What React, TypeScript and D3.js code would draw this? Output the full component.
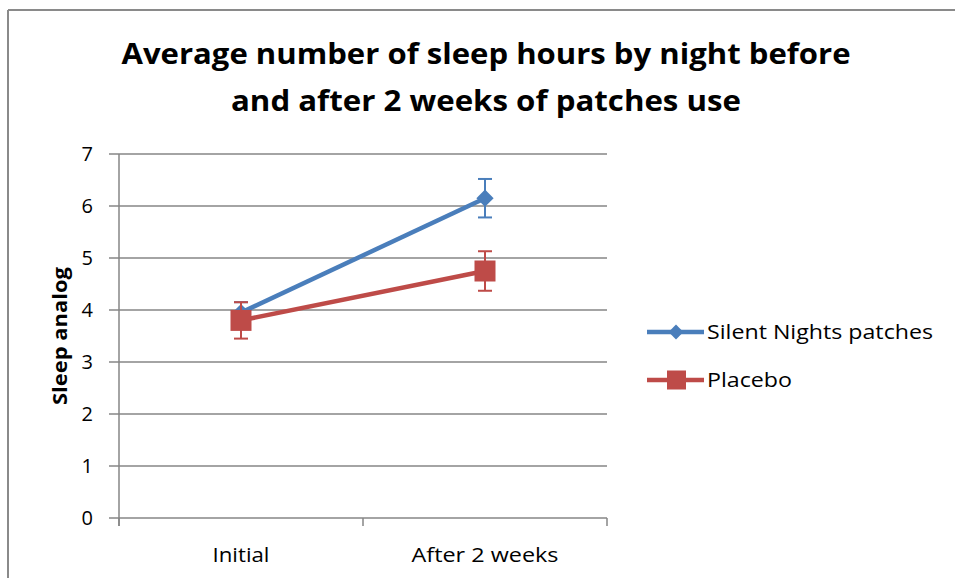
import React, { useEffect, useRef } from 'react';
import * as d3 from 'd3';

// chart values
const categories = ['Initial', 'After 2 weeks'];
const seriesNames = ['Silent Nights patches', 'Placebo'];
const silentNights = [3.95, 6.15];
const silentNightsErr = [0.2, 0.37];
const placebo = [3.8, 4.75];
const placeboErr = [0.35, 0.38];
const yTicks = [0, 1, 2, 3, 4, 5, 6, 7];
const titleLines = ['Average number of sleep hours by night before', 'and after 2 weeks of patches use'];
const yLabel = 'Sleep analog';

const BLUE = '#4A7EBB';
const RED = '#BE4B48';
const GRID = '#868686';
const FONT = "'Open Sans', 'DejaVu Sans', sans-serif";

export default function App() {
  const ref = useRef<SVGSVGElement>(null);

  useEffect(() => {
    const svg = d3.select(ref.current);
    svg.selectAll('*').remove();

    const left = 119, right = 607, top = 154, bottom = 518;

    // frame of the embedded chart (only top and left edges show)
    svg.append('line').attr('x1', 8).attr('x2', 955).attr('y1', 10).attr('y2', 10)
      .attr('stroke', '#8a8a8a').attr('stroke-width', 2);
    svg.append('line').attr('x1', 8).attr('x2', 8).attr('y1', 10).attr('y2', 578)
      .attr('stroke', '#8a8a8a').attr('stroke-width', 2);

    // title
    const titleWidths = [729, 510];
    const titleBase = [64, 111];
    titleLines.forEach((t, i) => {
      svg.append('text')
        .attr('x', 486).attr('y', titleBase[i])
        .attr('text-anchor', 'middle')
        .attr('font-family', FONT).attr('font-weight', 'bold').attr('font-size', 29)
        .attr('textLength', titleWidths[i]).attr('lengthAdjust', 'spacingAndGlyphs')
        .attr('fill', '#000')
        .text(t);
    });

    const x = d3.scaleBand().domain(categories).range([left, right]).padding(0);
    const y = d3.scaleLinear().domain([0, 7]).range([bottom, top]);

    const g = svg.append('g');

    // gridlines with left tick stubs
    g.selectAll('.grid').data(yTicks).join('line')
      .attr('class', 'grid')
      .attr('x1', left - 10).attr('x2', right)
      .attr('y1', d => y(d)).attr('y2', d => y(d))
      .attr('stroke', GRID).attr('stroke-width', 1.5);

    // y axis line
    g.append('line').attr('x1', left).attr('x2', left).attr('y1', top).attr('y2', bottom + 8)
      .attr('stroke', GRID).attr('stroke-width', 1.5);

    // x axis ticks at band edges
    const edges = [left, ...categories.map(c => (x(c) as number) + x.bandwidth())];
    g.selectAll('.xtick').data(edges).join('line')
      .attr('class', 'xtick')
      .attr('x1', d => d).attr('x2', d => d)
      .attr('y1', bottom).attr('y2', bottom + 8)
      .attr('stroke', GRID).attr('stroke-width', 1.5);

    // y tick labels
    g.selectAll('.ylab').data(yTicks).join('text')
      .attr('class', 'ylab')
      .attr('x', 93).attr('y', d => y(d) + 7)
      .attr('text-anchor', 'end')
      .attr('font-family', FONT).attr('font-size', 20).attr('fill', '#000')
      .text(d => d);

    // x labels
    const xLabelWidths = [57, 147];
    g.selectAll('.xlab').data(categories).join('text')
      .attr('class', 'xlab')
      .attr('x', d => (x(d) as number) + x.bandwidth() / 2)
      .attr('y', 562)
      .attr('text-anchor', 'middle')
      .attr('font-family', FONT).attr('font-size', 20.5).attr('fill', '#000')
      .attr('textLength', (d, i) => xLabelWidths[i]).attr('lengthAdjust', 'spacingAndGlyphs')
      .text(d => d);

    // y axis title
    svg.append('text')
      .attr('transform', 'translate(67,336) rotate(-90)')
      .attr('text-anchor', 'middle')
      .attr('font-family', FONT).attr('font-weight', 'bold').attr('font-size', 19)
      .attr('textLength', 138).attr('lengthAdjust', 'spacingAndGlyphs')
      .attr('fill', '#000')
      .text(yLabel);

    const cx = (c: string) => (x(c) as number) + x.bandwidth() / 2;
    const line = d3.line<number>().x((d, i) => cx(categories[i])).y(d => y(d));

    const drawErr = (vals: number[], errs: number[], color: string) => {
      vals.forEach((v, i) => {
        const px = cx(categories[i]);
        const eg = g.append('g').attr('stroke', color).attr('stroke-width', 2);
        eg.append('line').attr('x1', px).attr('x2', px).attr('y1', y(v + errs[i])).attr('y2', y(v - errs[i]));
        eg.append('line').attr('x1', px - 7).attr('x2', px + 7).attr('y1', y(v + errs[i])).attr('y2', y(v + errs[i]));
        eg.append('line').attr('x1', px - 7).attr('x2', px + 7).attr('y1', y(v - errs[i])).attr('y2', y(v - errs[i]));
      });
    };

    // blue series
    drawErr(silentNights, silentNightsErr, BLUE);
    g.append('path').datum(silentNights).attr('d', line)
      .attr('fill', 'none').attr('stroke', BLUE).attr('stroke-width', 4.5);
    const diamond = d3.symbol().type(d3.symbolDiamond2).size(190);
    g.selectAll('.dia').data(silentNights).join('path')
      .attr('class', 'dia')
      .attr('transform', (d, i) => `translate(${cx(categories[i])},${y(d)})`)
      .attr('d', diamond)
      .attr('fill', BLUE);

    // red series
    drawErr(placebo, placeboErr, RED);
    g.append('path').datum(placebo).attr('d', line)
      .attr('fill', 'none').attr('stroke', RED).attr('stroke-width', 4.5);
    g.selectAll('.sq').data(placebo).join('rect')
      .attr('class', 'sq')
      .attr('x', (d, i) => cx(categories[i]) - 10.5).attr('y', d => y(d) - 10.5)
      .attr('width', 21).attr('height', 21)
      .attr('fill', RED);

    // legend
    const legY = [332, 380];
    const colors = [BLUE, RED];
    const textWidths = [226, 85];
    seriesNames.forEach((name, i) => {
      const lg = svg.append('g');
      lg.append('line').attr('x1', 647).attr('x2', 704).attr('y1', legY[i]).attr('y2', legY[i])
        .attr('stroke', colors[i]).attr('stroke-width', 4.5);
      if (i === 0) {
        lg.append('path').attr('transform', `translate(676,${legY[i]})`)
          .attr('d', d3.symbol().type(d3.symbolDiamond2).size(140)).attr('fill', BLUE);
      } else {
        lg.append('rect').attr('x', 667).attr('y', legY[i] - 9.5).attr('width', 19).attr('height', 19)
          .attr('fill', RED);
      }
      lg.append('text')
        .attr('x', 707).attr('y', legY[i] + 7)
        .attr('font-family', FONT).attr('font-size', 20.5).attr('fill', '#000')
        .attr('textLength', textWidths[i]).attr('lengthAdjust', 'spacingAndGlyphs')
        .text(name);
    });
  }, []);

  return (
    <svg ref={ref} width={955} height={578}
      style={{ position: 'absolute', left: 0, top: 0, background: '#fff' }} />
  );
}
